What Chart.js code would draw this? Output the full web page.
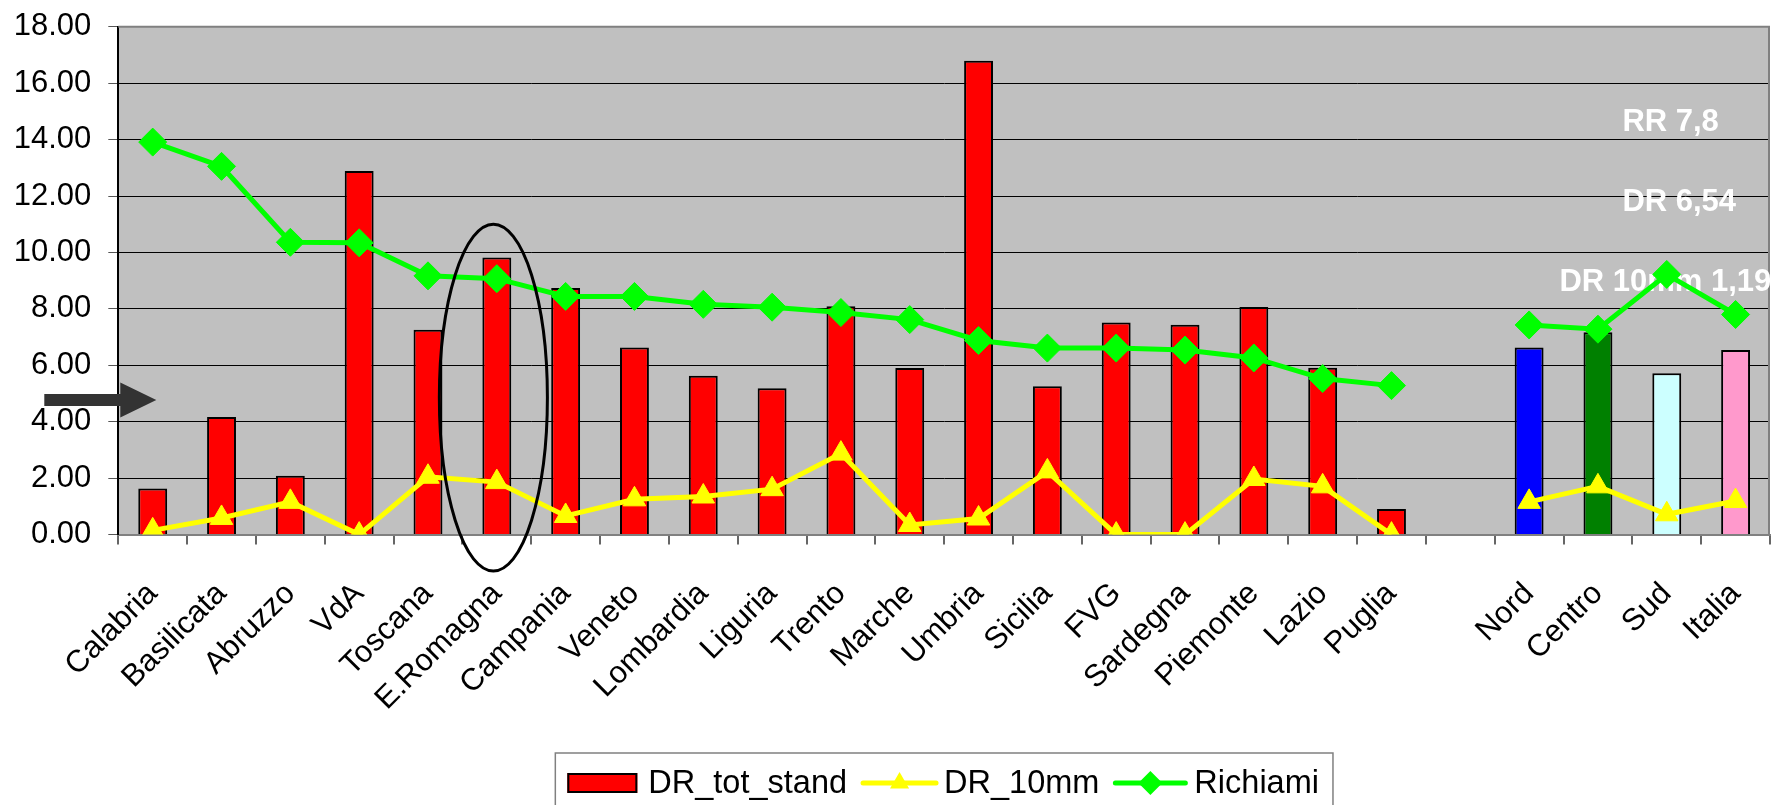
<!DOCTYPE html>
<html><head><meta charset="utf-8">
<script src="https://cdn.jsdelivr.net/npm/chart.js@4/dist/chart.umd.min.js"></script>
<style>html,body{margin:0;padding:0;background:#fff;overflow:hidden}#wrap{width:1785px;height:805px;position:relative}</style>
</head><body><div id="wrap"><canvas id="c" width="1785" height="805"></canvas></div>
<script>
const categories = ['Calabria','Basilicata','Abruzzo','VdA','Toscana','E.Romagna','Campania','Veneto','Lombardia','Liguria','Trento','Marche','Umbria','Sicilia','FVG','Sardegna','Piemonte','Lazio','Puglia','','Nord','Centro','Sud','Italia'];
const drTotStand = [1.63,4.17,2.09,12.89,7.26,9.82,8.74,6.63,5.63,5.19,8.09,5.90,16.79,5.26,7.52,7.44,8.07,5.91,0.91,null,6.63,7.17,5.72,6.54];
const dr10mm = [0.15,0.59,1.16,0.00,2.05,1.86,0.66,1.25,1.35,1.61,2.87,0.34,0.57,2.24,0.00,0.00,1.97,1.71,0.00,null,1.16,1.71,0.72,1.19];
const richiami = [13.91,13.05,10.36,10.34,9.17,9.07,8.44,8.44,8.16,8.06,7.87,7.62,6.88,6.61,6.61,6.54,6.26,5.53,5.28,null,7.43,7.28,9.22,7.80];
const barColors = ['#FF0000','#FF0000','#FF0000','#FF0000','#FF0000','#FF0000','#FF0000','#FF0000','#FF0000','#FF0000','#FF0000','#FF0000','#FF0000','#FF0000','#FF0000','#FF0000','#FF0000','#FF0000','#FF0000','#FF0000','#0000FF','#008000','#CCFFFF','#FF99CC'];
const seriesNames = ['DR_tot_stand','DR_10mm','Richiami'];
const yMin = 0, yMax = 18, yStep = 2;
const notes = [
  {text:'RR 7,8', cat:'Centro', dx:0.355, y:14.62},
  {text:'DR 6,54', cat:'Centro', dx:0.355, y:11.78},
  {text:'DR 10mm 1,19', cat:'Nord', dx:0.44, y:8.95}
];
const ellipseNote = {cat:'E.Romagna', dx:-0.05, yTop:11.0, yBottom:-1.29, widthSlots:1.57};
const arrowNote = {y:4.77};

const FONT = 'Liberation Sans, Arial, sans-serif';
Chart.defaults.font.family = FONT;
Chart.defaults.color = '#000';

function slotWidth(chart){ const x = chart.scales.x; return (x.right - x.left) / categories.length; }

const bgPlugin = {
  id:'bg',
  beforeDraw(chart){
    const {ctx, chartArea:a} = chart;
    ctx.save(); ctx.fillStyle = '#C0C0C0';
    ctx.fillRect(a.left, a.top, a.right - a.left, a.bottom - a.top);
    ctx.restore();
  },
  beforeDatasetsDraw(chart){
    const {ctx, chartArea:a, scales} = chart;
    ctx.save();
    ctx.strokeStyle = '#808080'; ctx.lineWidth = 2;
    ctx.beginPath(); ctx.moveTo(a.left, a.top); ctx.lineTo(a.right - 1, a.top); ctx.lineTo(a.right - 1, a.bottom); ctx.stroke();
    // annotations (drawn under the lines)
    ctx.fillStyle = '#FFFFFF';
    ctx.font = 'bold 31px ' + FONT;
    ctx.textBaseline = 'middle'; ctx.textAlign = 'left';
    const sw = slotWidth(chart);
    notes.forEach(n => {
      const x = scales.x.getPixelForValue(categories.indexOf(n.cat)) + n.dx * sw;
      ctx.fillText(n.text, x, scales.y.getPixelForValue(n.y));
    });
    ctx.restore();
  },
  afterDatasetsDraw(chart){
    const {ctx, chartArea:a, scales} = chart;
    const sw = slotWidth(chart);
    ctx.save();
    // ellipse
    const cx = scales.x.getPixelForValue(categories.indexOf(ellipseNote.cat)) + ellipseNote.dx * sw;
    const yt = scales.y.getPixelForValue(ellipseNote.yTop), yb = scales.y.getPixelForValue(ellipseNote.yBottom);
    ctx.strokeStyle = '#000'; ctx.lineWidth = 3;
    ctx.beginPath(); ctx.ellipse(cx, (yt + yb) / 2, ellipseNote.widthSlots * sw / 2, (yb - yt) / 2, 0, 0, Math.PI * 2); ctx.stroke();
    // arrow
    const ay = scales.y.getPixelForValue(arrowNote.y);
    ctx.fillStyle = '#333333';
    ctx.beginPath();
    ctx.moveTo(a.left - 74, ay - 6); ctx.lineTo(a.left + 2, ay - 6); ctx.lineTo(a.left + 2, ay - 17.5);
    ctx.lineTo(a.left + 38, ay); ctx.lineTo(a.left + 2, ay + 17.5); ctx.lineTo(a.left + 2, ay + 6);
    ctx.lineTo(a.left - 74, ay + 6); ctx.closePath(); ctx.fill();
    ctx.restore();
  },
  afterDraw(chart){
    const {ctx, chartArea:a} = chart;
    ctx.save();
    ctx.font = '32.5px ' + FONT;
    const samples = [70, 77, 74], gaps = [11, 6, 7];
    const tw = seriesNames.map(s => ctx.measureText(s).width);
    const padL = 12, padR = 14, itemGap = 14;
    let total = padL + padR;
    for (let i = 0; i < 3; i++) total += samples[i] + gaps[i] + tw[i] + (i < 2 ? itemGap : 0);
    const left = (a.left + a.right) / 2 - total / 2;
    const top = 753, cy = 783;
    ctx.strokeStyle = '#808080'; ctx.lineWidth = 1.5;
    ctx.strokeRect(left, top, total, 80);
    let x = left + padL;
    ctx.textBaseline = 'middle'; ctx.textAlign = 'left'; ctx.fillStyle = '#000';
    // bar sample
    ctx.fillStyle = '#FF0000'; ctx.fillRect(x, cy - 10, samples[0], 20);
    ctx.strokeStyle = '#000'; ctx.lineWidth = 2; ctx.strokeRect(x + 1, cy - 9, samples[0] - 2, 18);
    x += samples[0] + gaps[0];
    ctx.fillStyle = '#000'; ctx.fillText(seriesNames[0], x, cy + 1);
    x += tw[0] + itemGap;
    // yellow line + triangle
    ctx.strokeStyle = '#FFFF00'; ctx.lineWidth = 5; ctx.lineCap = 'round';
    ctx.beginPath(); ctx.moveTo(x + 2, cy); ctx.lineTo(x + samples[1] - 2, cy); ctx.stroke();
    let mx = x + samples[1] / 2, r = 11;
    ctx.fillStyle = '#FFFF00';
    ctx.beginPath(); ctx.moveTo(mx, cy - r); ctx.lineTo(mx + r * 0.866, cy + r / 2); ctx.lineTo(mx - r * 0.866, cy + r / 2); ctx.closePath(); ctx.fill();
    x += samples[1] + gaps[1];
    ctx.fillStyle = '#000'; ctx.fillText(seriesNames[1], x, cy + 1);
    x += tw[1] + itemGap;
    // green line + diamond
    ctx.strokeStyle = '#00FF00'; ctx.lineWidth = 5;
    ctx.beginPath(); ctx.moveTo(x + 2, cy); ctx.lineTo(x + samples[2] - 2, cy); ctx.stroke();
    mx = x + samples[2] / 2; r = 12;
    ctx.fillStyle = '#00FF00';
    ctx.beginPath(); ctx.moveTo(mx, cy - r); ctx.lineTo(mx + r, cy); ctx.lineTo(mx, cy + r); ctx.lineTo(mx - r, cy); ctx.closePath(); ctx.fill();
    x += samples[2] + gaps[2];
    ctx.fillStyle = '#000'; ctx.fillText(seriesNames[2], x, cy + 1);
    ctx.restore();
  }
};

new Chart(document.getElementById('c'), {
  data: {
    labels: categories,
    datasets: [
      {type:'bar', label:seriesNames[0], data:drTotStand, backgroundColor:barColors, borderColor:'#000', borderWidth:2,
       barPercentage:0.42, categoryPercentage:1.0, order:3},
      {type:'line', label:seriesNames[1], data:dr10mm, borderColor:'#FFFF00', borderWidth:5, pointStyle:'triangle',
       pointRadius:13, pointBackgroundColor:'#FFFF00', pointBorderColor:'#FFFF00', pointBorderWidth:1, spanGaps:false, tension:0, order:2},
      {type:'line', label:seriesNames[2], data:richiami, borderColor:'#00FF00', borderWidth:5, pointStyle:'rectRot',
       pointRadius:14, pointBackgroundColor:'#00FF00', pointBorderColor:'#00FF00', pointBorderWidth:1, spanGaps:false, tension:0, order:1}
    ]
  },
  options: {
    responsive:false, animation:false, events:[],
    layout:{padding:{top:26.7, left:0, right:1, bottom:0}},
    plugins:{legend:{display:false}, tooltip:{enabled:false}},
    scales:{
      x:{
        offset:true,
        grid:{display:true, drawOnChartArea:false, drawTicks:true, tickLength:10, color:'#666', lineWidth:2, offset:true},
        border:{display:true, color:'#808080', width:2},
        ticks:{autoSkip:false, maxRotation:45, minRotation:45, padding:31, font:{size:31}, color:'#000'},
        afterFit(s){ s.height = 805 - 534.6; s.paddingLeft = 0; s.paddingRight = 0; }
      },
      y:{
        min:yMin, max:yMax,
        grid:{color:'#000', lineWidth:1, tickLength:10, tickColor:'#555'},
        border:{display:true, color:'#000', width:2},
        ticks:{stepSize:yStep, padding:17, font:{size:31}, color:'#000', callback:v => v.toFixed(2)},
        afterFit(s){ s.width = 118.3; s.paddingTop = 0; s.paddingBottom = 0; }
      }
    }
  },
  plugins:[bgPlugin]
});
</script></body></html>
